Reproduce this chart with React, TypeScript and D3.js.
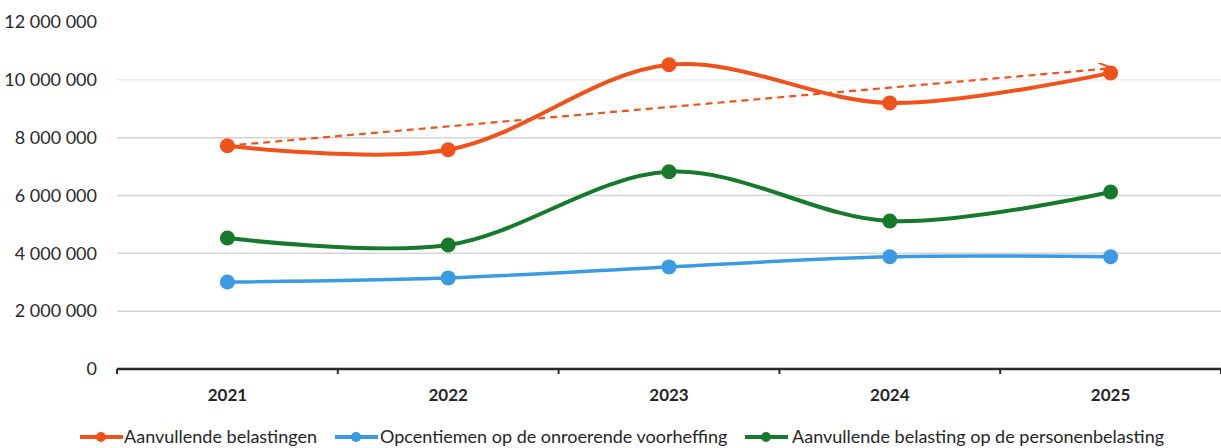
import React from "react";
import * as d3 from "d3";

const years = ["2021", "2022", "2023", "2024", "2025"];
const aanvullendeBelastingen = [7720000, 7580000, 10520000, 9200000, 10240000];
const opcentiemen = [3010000, 3150000, 3530000, 3880000, 3880000];
const personenbelasting = [4530000, 4290000, 6820000, 5120000, 6120000];
const trendValues = [7720000, 10400000];
const yTicks = [0, 2000000, 4000000, 6000000, 8000000, 10000000, 12000000];

const seriesNames = [
  "Aanvullende belastingen",
  "Opcentiemen op de onroerende voorheffing",
  "Aanvullende belasting op de personenbelasting",
];
const colors = ["#f0521c", "#3a9be3", "#17792b"];

const W = 1221;
const H = 448;
const left = 117;
const right = 1221;
const top = 22;
const bottom = 369;

export default function App() {
  const x = d3.scaleBand<string>().domain(years).range([left, right]).padding(0);
  const y = d3.scaleLinear().domain([0, 12000000]).range([bottom, top]);
  const cx = (yr: string) => (x(yr) as number) + x.bandwidth() / 2;
  const fmt = (v: number) => d3.format(",")(v).replace(/,/g, " ");

  const line = d3
    .line<number>()
    .x((_, i) => cx(years[i]))
    .y((d) => y(d))
    .curve(d3.curveCatmullRom.alpha(0.5));

  const series = [aanvullendeBelastingen, opcentiemen, personenbelasting];
  const order = [1, 2, 0];
  const font = "Lato, 'Open Sans', sans-serif";
  const boundaries = years.map((yr) => x(yr) as number).concat([right]);

  const legendItems = [
    { lx: 80, tx: 124 },
    { lx: 335, tx: 380 },
    { lx: 745, tx: 792 },
  ];

  return (
    <svg
      width={W}
      height={H}
      style={{ position: "absolute", left: 0, top: 0, background: "#fff" }}
      fontFamily={font}
    >
      <defs>
        <marker id="arrow" viewBox="0 0 10 10" refX="9" refY="5" markerWidth="6" markerHeight="6" orient="auto">
          <path d="M0,0 L10,5 L0,10" fill="none" stroke={colors[0]} strokeWidth={1.5} />
        </marker>
      </defs>
      {yTicks.map((t) => (
        <g key={t}>
          {t > 0 && t < 12000000 && (
            <line
              x1={left}
              x2={right}
              y1={y(t)}
              y2={y(t)}
              stroke={t === 10000000 ? "#eeeeee" : "#d4d4d4"}
              strokeWidth={1.5}
            />
          )}
          <text x={97} y={y(t)} dy="0.35em" textAnchor="end" fontSize={18} fill="#2a2a2a">
            {fmt(t)}
          </text>
        </g>
      ))}
      <line x1={left} x2={right} y1={y(0)} y2={y(0)} stroke="#2b2b2b" strokeWidth={2.5} />
      {boundaries.map((b, i) => (
        <line key={i} x1={b} x2={b} y1={y(0)} y2={y(0) + 5} stroke="#2b2b2b" strokeWidth={2} />
      ))}
      {years.map((yr) => (
        <text key={yr} x={cx(yr)} y={401} textAnchor="middle" fontSize={17} fontWeight="bold" fill="#262626">
          {yr}
        </text>
      ))}
      {order.map((si) => (
        <g key={si}>
          <path d={line(series[si]) || ""} fill="none" stroke={colors[si]} strokeWidth={si === 1 ? 3.5 : 4} />
          {series[si].map((v, i) => (
            <circle key={i} cx={cx(years[i])} cy={y(v)} r={7.5} fill={colors[si]} />
          ))}
        </g>
      ))}
      <line
        x1={cx(years[0])}
        y1={y(trendValues[0])}
        x2={cx(years[4])}
        y2={y(trendValues[1])}
        stroke={colors[0]}
        strokeWidth={2.2}
        strokeDasharray="7 5"
        markerEnd="url(#arrow)"
      />
      {legendItems.map((it, i) => (
        <g key={i}>
          <line x1={it.lx} x2={it.lx + 43} y1={437} y2={437} stroke={colors[i]} strokeWidth={4} />
          <circle cx={it.lx + 21} cy={437} r={5} fill={colors[i]} />
          <text x={it.tx} y={437} dy="0.35em" fontSize={18} fill="#262626">
            {seriesNames[i]}
          </text>
        </g>
      ))}
    </svg>
  );
}
